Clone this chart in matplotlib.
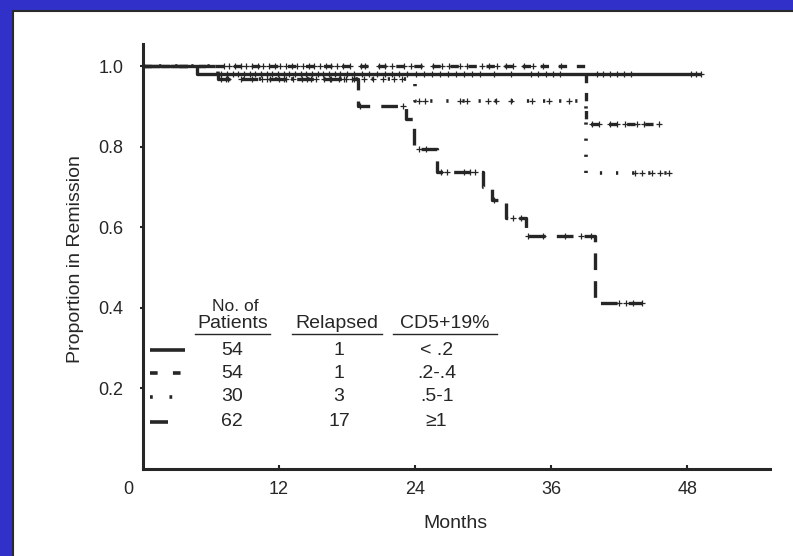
import numpy as np
import matplotlib
matplotlib.use("Agg")
import matplotlib.pyplot as plt
from matplotlib.patches import Rectangle

plt.rcParams['font.family'] = ['Liberation Sans', 'DejaVu Sans']
plt.rcParams['lines.scale_dashes'] = False

# ---------------- data ----------------
# Kaplan-Meier step curves (time in months, proportion in remission)
solid_t = [0, 4.8, 49.2]
solid_s = [1.0, 0.981, 0.981]
dashed_t = [0, 39.1, 45.5]
dashed_s = [1.0, 0.857, 0.857]
dotted_t = [0, 6.6, 24.0, 39.1, 46.4]
dotted_s = [1.0, 0.967, 0.913, 0.735, 0.735]
ldash_t = [0, 6.6, 19.0, 23.2, 23.9, 25.9, 30.0, 30.8, 32.0, 33.8, 39.9, 44.0]
ldash_s = [1.0, 0.968, 0.900, 0.868, 0.795, 0.736, 0.700, 0.667, 0.622, 0.577, 0.413, 0.413]

# censored observations (months)
solid_c = [6.9, 7.4, 7.9, 8.4, 8.9, 9.4, 9.9, 10.4, 10.9, 11.4, 11.9, 12.4, 12.9, 13.4,
           13.9, 14.4, 14.9, 15.4, 15.9, 16.4, 16.9, 17.4, 18.0, 18.6, 19.3, 19.9, 20.6,
           21.3, 22.0, 22.6, 23.3, 24.1, 24.8, 25.5, 26.2, 26.9, 27.6, 28.3, 29.0, 29.7,
           31.0, 32.5, 34.2, 34.8, 35.5, 36.2, 36.8, 40.0, 40.6, 41.2, 41.8, 42.4, 43.0,
           48.3, 48.8, 49.2]
dashed_c = [7.1, 7.6, 8.1, 8.6, 9.1, 9.6, 10.1, 10.6, 11.1, 11.6, 12.1, 12.6, 13.1, 13.6,
            14.1, 14.6, 15.1, 15.6, 16.1, 16.6, 17.1, 17.6, 18.3, 19.2, 19.6, 20.8, 21.3,
            22.0, 23.0, 23.6, 24.5, 25.6, 26.4, 27.0, 28.0, 28.6, 29.9, 30.5, 31.2, 32.0,
            32.6, 33.6, 34.4, 35.3, 36.9, 39.6, 40.2, 41.2, 41.8, 42.5, 43.6, 44.2, 45.5]
dotted_c = [6.9, 7.5, 9.6, 10.5, 11.2, 12.0, 12.6, 13.2, 14.0, 14.5, 15.3, 16.0, 16.6,
            17.3, 17.9, 18.6, 19.5, 20.3, 21.2, 22.1, 22.8, 24.3, 24.9, 28.0, 28.6, 30.4,
            31.1, 32.5, 34.3, 35.8, 37.6, 43.4, 44.0, 44.9, 45.6, 46.4]
ldash_c = [7.3, 8.6, 10.9, 12.4, 14.8, 16.5, 17.7, 18.4, 19.1, 22.9, 24.3, 25.0, 26.3,
           26.8, 28.3, 28.8, 29.3, 31.0, 32.6, 33.3, 34.0, 35.3, 37.2, 38.6, 39.5, 42.0,
           42.6, 43.2, 44.0]

# legend table
n_patients = ["54", "54", "30", "62"]
n_relapsed = ["1", "1", "3", "17"]
cd_groups = ["< .2", ".2-.4", ".5-1", "\u22651"]

x_ticks = [12, 24, 36, 48]
y_ticks = [0.2, 0.4, 0.6, 0.8, 1.0]
y_ticklabels = ["0.2", "0.4", "0.6", "0.8", "1.0"]

# ---------------- styles ----------------
INK = '#262626'
styles = [
    dict(ls='-', lw=2.4),
    dict(ls=(0, (6, 7)), lw=2.4),
    dict(ls=(0, (1.6, 10)), lw=2.6),
    dict(ls=(0, (12, 8)), lw=2.4),
]
legend_dash = [
    dict(ls='-', lw=2.6),
    dict(ls=(0, (5.5, 11)), lw=2.6),
    dict(ls=(0, (2, 12)), lw=2.6),
    dict(ls='-', lw=2.6),
]

W, H = 793, 556
fig = plt.figure(figsize=(W / 100, H / 100), dpi=100, facecolor='#3131C9')
fig.patches.append(Rectangle((13 / W, -0.01), 1.0, 1 - 11 / H + 0.01,
                             transform=fig.transFigure, facecolor='white',
                             edgecolor='#2a2a2a', lw=1.5, zorder=-5))

ax = fig.add_axes([143 / W, 1 - 469 / H, (770 - 143) / W, (469 - 44) / H])
ax.set_zorder(2)
ax.set_facecolor('none')
ax.set_xlim(0, 55.3)
ax.set_ylim(0, (469 - 44) / 403)

for sp in ['top', 'right']:
    ax.spines[sp].set_visible(False)
for sp in ['left', 'bottom']:
    ax.spines[sp].set_linewidth(2.2)
    ax.spines[sp].set_color(INK)

ax.set_xticks(x_ticks)
ax.set_xticklabels([str(v) for v in x_ticks])
ax.set_yticks(y_ticks)
ax.set_yticklabels(y_ticklabels)
ax.tick_params(axis='x', direction='in', length=3, width=1.5, pad=9,
               labelsize=13, colors=INK)
ax.tick_params(axis='y', direction='out', length=2, width=1.5, pad=12,
               labelsize=13, colors=INK)
ax.annotate('0', xy=(-1.3, 0), xycoords='data', xytext=(0, -9),
            textcoords='offset points', ha='center', va='top',
            fontsize=13, color=INK, annotation_clip=False)

curves = [(solid_t, solid_s, solid_c), (dashed_t, dashed_s, dashed_c),
          (dotted_t, dotted_s, dotted_c), (ldash_t, ldash_s, ldash_c)]
for (t, s, c), st in zip(curves, styles):
    ax.step(t, s, where='post', color=INK, solid_capstyle='butt',
            dash_capstyle='butt', **st)
    t_arr = np.array(t)
    s_arr = np.array(s)
    idx = np.searchsorted(t_arr, np.array(c), side='right') - 1
    ax.plot(c, s_arr[idx], ls='none', marker='+', ms=5, mew=0.9, color=INK)

# ---------------- legend table ----------------
FS = 14
ax.text(8.12, 0.404, "No. of", ha='center', va='center', fontsize=12.5, color=INK)
headers = [(7.94, "Patients", 4.59, 11.21), (17.1, "Relapsed", 13.15, 21.09),
           (26.6, "CD5+19%", 22.06, 31.24)]
for xc, txt, x0, x1 in headers:
    ax.text(xc, 0.362, txt, ha='center', va='center', fontsize=FS, color=INK)
    ax.plot([x0, x1], [0.336, 0.336], color=INK, lw=1.0)

row_y = [0.295, 0.238, 0.179, 0.117]
for i, y in enumerate(row_y):
    ax.plot([0.62, 3.7 if i < 3 else 2.2], [y, y], color=INK,
            solid_capstyle='butt', dash_capstyle='butt', **legend_dash[i])
    ax.text(7.85, y, n_patients[i], ha='center', va='center', fontsize=FS, color=INK)
    ax.text(17.3, y, n_relapsed[i], ha='center', va='center', fontsize=FS, color=INK)
    ax.text(25.9, y, cd_groups[i], ha='center', va='center', fontsize=FS, color=INK)

fig.text(75 / W, 1 - 259 / H, "Proportion in Remission", rotation=90,
         ha='center', va='center', fontsize=14, color=INK)
fig.text(455 / W, 1 - 523 / H, "Months", ha='center', va='center',
         fontsize=14, color=INK)

fig.savefig("out.png", dpi=100, facecolor=fig.get_facecolor())
